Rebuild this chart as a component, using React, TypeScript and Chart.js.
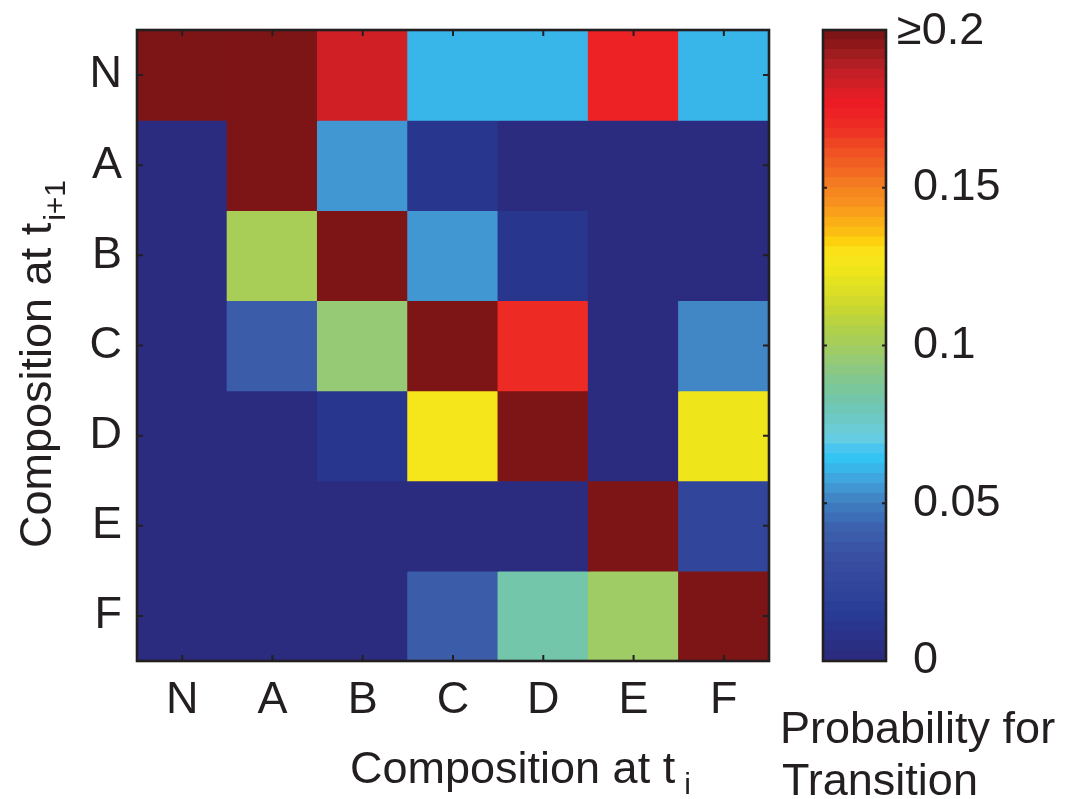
import React, { useEffect, useRef } from 'react';
import { Chart, registerables } from 'chart.js';

Chart.register(...registerables);

// Composition at t_i (columns) and at t_{i+1} (rows)
const FROM_LABELS = ['N', 'A', 'B', 'C', 'D', 'E', 'F'];
const TO_LABELS = ['N', 'A', 'B', 'C', 'D', 'E', 'F'];

// Transition probabilities, one row per composition at t_{i+1}
const ROW_N = [0.42, 0.35, 0.183, 0.061, 0.061, 0.172, 0.061];
const ROW_A = [0.0, 0.31, 0.054, 0.012, 0.0, 0.0, 0.0];
const ROW_B = [0.0, 0.102, 0.38, 0.054, 0.012, 0.0, 0.0];
const ROW_C = [0.0, 0.04, 0.094, 0.29, 0.17, 0.0, 0.05];
const ROW_D = [0.0, 0.0, 0.012, 0.128, 0.33, 0.0, 0.122];
const ROW_E = [0.0, 0.0, 0.0, 0.0, 0.0, 0.4, 0.024];
const ROW_F = [0.0, 0.0, 0.0, 0.038, 0.082, 0.098, 0.45];
const VALUES = [ROW_N, ROW_A, ROW_B, ROW_C, ROW_D, ROW_E, ROW_F];

const CBAR_TICKS = [0, 0.05, 0.1, 0.15, 0.2];
const CBAR_TICK_LABELS = ['0', '0.05', '0.1', '0.15', '≥0.2'];
const VMAX = 0.2;
const LEVELS = 64;

const X_TITLE = 'Composition at t';
const X_TITLE_SUB = 'i';
const Y_TITLE = 'Composition at t';
const Y_TITLE_SUB = 'i+1';
const CBAR_TITLE = ['Probability for', 'Transition'];

// printed "jet" colormap
const STOPS: [number, string][] = [
  [0.0, '#2b2a7c'], [0.04, '#2a3289'], [0.07, '#283a94'], [0.1, '#2e4299'],
  [0.13, '#34489d'], [0.17, '#3a50a2'], [0.19, '#3b5aa8'], [0.215, '#3c63ae'],
  [0.23, '#3d70b8'], [0.25, '#417fc1'], [0.27, '#4193cf'], [0.285, '#41a3da'],
  [0.3, '#3ab2e6'], [0.32, '#33c4f3'], [0.34, '#4ec5ef'], [0.355, '#6ccfe0'],
  [0.38, '#6bc9c9'], [0.41, '#71c6ac'], [0.44, '#7ec793'], [0.47, '#93c97a'],
  [0.5, '#a5cd5f'], [0.525, '#b0d04a'], [0.55, '#c2d635'], [0.58, '#d9de28'],
  [0.62, '#f0e61a'], [0.645, '#f9e51b'], [0.665, '#fdd00c'], [0.685, '#fcb615'],
  [0.7, '#fbac18'], [0.72, '#f7941d'], [0.75, '#f58220'], [0.78, '#f26522'],
  [0.81, '#f04e23'], [0.84, '#ee3024'], [0.88, '#ed1c24'], [0.897, '#e31e25'],
  [0.91, '#d41f26'], [0.93, '#c41f26'], [0.945, '#b11f24'], [0.96, '#a01c1f'],
  [0.977, '#8e1719'], [0.99, '#7d1416'], [1.0, '#7d1416'],
];

const FONT_FAMILY = '"Liberation Sans", Arial, Helvetica, sans-serif';
const TEXT_COLOR = '#231f20';
const FONT_SIZE = 45;

function hexToRgb(h: string) {
  const n = parseInt(h.slice(1), 16);
  return [(n >> 16) & 255, (n >> 8) & 255, n & 255];
}

function interp(t: number) {
  for (let i = 1; i < STOPS.length; i++) {
    if (t <= STOPS[i][0]) {
      const [t0, c0] = STOPS[i - 1];
      const [t1, c1] = STOPS[i];
      const f = (t - t0) / (t1 - t0 || 1);
      const a = hexToRgb(c0);
      const b = hexToRgb(c1);
      const c = a.map((v, k) => Math.round(v + (b[k] - v) * f));
      return `rgb(${c[0]},${c[1]},${c[2]})`;
    }
  }
  return STOPS[STOPS.length - 1][1];
}

function levelColor(k: number) {
  return interp((k + 0.5) / LEVELS);
}

function colorFor(v: number) {
  const t = Math.max(0, Math.min(1, v / VMAX));
  const k = Math.min(LEVELS - 1, Math.floor(t * LEVELS));
  return levelColor(k);
}

function noPad(s: any) {
  s.paddingTop = 0;
  s.paddingBottom = 0;
  s.paddingLeft = 0;
  s.paddingRight = 0;
}

const mainDecor = {
  id: 'mainDecor',
  afterDraw(chart: any) {
    const { ctx, chartArea: a, scales } = chart;
    const xs = scales.x;
    const ys = scales.y;
    ctx.save();
    ctx.strokeStyle = TEXT_COLOR;
    ctx.lineWidth = 2;
    const tl = 6;
    FROM_LABELS.forEach((_, i) => {
      const x = xs.getPixelForTick(i);
      ctx.beginPath();
      ctx.moveTo(x, a.bottom);
      ctx.lineTo(x, a.bottom - tl);
      ctx.moveTo(x, a.top);
      ctx.lineTo(x, a.top + tl);
      ctx.stroke();
    });
    TO_LABELS.forEach((_, i) => {
      const y = ys.getPixelForValue(i + 0.5);
      ctx.beginPath();
      ctx.moveTo(a.left, y);
      ctx.lineTo(a.left + tl, y);
      ctx.moveTo(a.right, y);
      ctx.lineTo(a.right - tl, y);
      ctx.stroke();
    });
    ctx.lineWidth = 2.6;
    ctx.strokeRect(a.left, a.top, a.right - a.left, a.bottom - a.top);

    // axis titles with subscripts
    ctx.fillStyle = TEXT_COLOR;
    ctx.textAlign = 'left';
    ctx.textBaseline = 'alphabetic';
    const big = `${FONT_SIZE}px ${FONT_FAMILY}`;
    const small = `30px ${FONT_FAMILY}`;
    ctx.font = big;
    const xw = ctx.measureText(X_TITLE).width;
    const xStart = 350;
    ctx.fillText(X_TITLE, xStart, 783);
    ctx.font = small;
    ctx.fillText(X_TITLE_SUB, xStart + xw + 9, 794);

    ctx.save();
    ctx.translate(51, 548);
    ctx.rotate(-Math.PI / 2);
    ctx.font = big;
    const yw = ctx.measureText(Y_TITLE).width;
    ctx.fillText(Y_TITLE, 0, 0);
    ctx.font = small;
    ctx.fillText(Y_TITLE_SUB, yw + 2, 14);
    ctx.restore();
    ctx.restore();
  },
};

const cbarDecor = {
  id: 'cbarDecor',
  afterDraw(chart: any) {
    const { ctx, chartArea: a, scales } = chart;
    const ys = scales.y;
    ctx.save();
    ctx.strokeStyle = TEXT_COLOR;
    ctx.lineWidth = 2;
    const tl = 4;
    CBAR_TICKS.forEach((v) => {
      const y = ys.getPixelForValue(v);
      ctx.beginPath();
      ctx.moveTo(a.left, y);
      ctx.lineTo(a.left + tl, y);
      ctx.moveTo(a.right, y);
      ctx.lineTo(a.right - tl, y);
      ctx.stroke();
    });
    ctx.lineWidth = 2.6;
    ctx.strokeRect(a.left, a.top, a.right - a.left, a.bottom - a.top);

    ctx.fillStyle = TEXT_COLOR;
    ctx.font = `${FONT_SIZE}px ${FONT_FAMILY}`;
    ctx.textAlign = 'left';
    ctx.textBaseline = 'middle';
    ctx.fillText(CBAR_TICK_LABELS[CBAR_TICK_LABELS.length - 1], a.right + 11, ys.getPixelForValue(CBAR_TICKS[CBAR_TICKS.length - 1]) + 2);

    ctx.textBaseline = 'alphabetic';
    ctx.fillText(CBAR_TITLE[0], 5, 743);
    ctx.fillText(CBAR_TITLE[1], 7, 795);
    ctx.restore();
  },
};

export default function App() {
  const mainRef = useRef<HTMLCanvasElement>(null);
  const cbarRef = useRef<HTMLCanvasElement>(null);

  useEffect(() => {
    const font = { family: FONT_FAMILY, size: FONT_SIZE };

    const datasets = TO_LABELS.map((rowLabel, r) => ({
      label: rowLabel,
      data: FROM_LABELS.map((c, j) => ({ x: c, y: [r, r + 1], v: VALUES[r][j] })),
      backgroundColor: VALUES[r].map((v) => colorFor(v)),
      borderWidth: 0,
      grouped: false,
      barPercentage: 1,
      categoryPercentage: 1,
      inflateAmount: 0.6,
    }));

    const main = new Chart(mainRef.current as HTMLCanvasElement, {
      type: 'bar',
      data: { labels: FROM_LABELS, datasets: datasets as any },
      options: {
        animation: false,
        responsive: false,
        maintainAspectRatio: false,
        layout: { padding: { left: 0, top: 30, right: 6, bottom: 0 } },
        plugins: { legend: { display: false }, tooltip: { enabled: false } },
        scales: {
          x: {
            type: 'category',
            offset: true,
            grid: { display: false, drawTicks: false },
            border: { display: false },
            ticks: { font, color: TEXT_COLOR, padding: 13, maxRotation: 0, autoSkip: false },
            afterFit: (s: any) => { s.height = 138; noPad(s); },
          },
          y: {
            type: 'linear',
            min: 0,
            max: TO_LABELS.length,
            reverse: true,
            grid: { display: false, drawTicks: false },
            border: { display: false },
            afterBuildTicks: (s: any) => { s.ticks = TO_LABELS.map((_, i) => ({ value: i + 0.5 })); },
            ticks: { font, color: TEXT_COLOR, padding: 15, callback: (_v: any, i: number) => TO_LABELS[i] },
            afterFit: (s: any) => { s.width = 137; noPad(s); },
          },
        },
      } as any,
      plugins: [mainDecor],
    });

    const cbarDatasets = Array.from({ length: LEVELS }, (_, k) => ({
      label: `level ${k}`,
      data: [{ x: 'cbar', y: [(k * VMAX) / LEVELS, ((k + 1) * VMAX) / LEVELS] }],
      backgroundColor: levelColor(k),
      borderWidth: 0,
      grouped: false,
      barPercentage: 1,
      categoryPercentage: 1,
      inflateAmount: 0.6,
    }));

    const cbar = new Chart(cbarRef.current as HTMLCanvasElement, {
      type: 'bar',
      data: { labels: ['cbar'], datasets: cbarDatasets as any },
      options: {
        animation: false,
        responsive: false,
        maintainAspectRatio: false,
        layout: { padding: { left: 48, top: 30, right: 0, bottom: 138 } },
        plugins: { legend: { display: false }, tooltip: { enabled: false } },
        scales: {
          x: { type: 'category', display: false, offset: true },
          y: {
            type: 'linear',
            position: 'right',
            min: 0,
            max: VMAX,
            grid: { display: false, drawTicks: false },
            border: { display: false },
            afterBuildTicks: (s: any) => { s.ticks = CBAR_TICKS.map((v) => ({ value: v })); },
            ticks: {
              font,
              color: TEXT_COLOR,
              padding: 27,
              callback: (_v: any, i: number) => (i === CBAR_TICKS.length - 1 ? '' : CBAR_TICK_LABELS[i]),
            },
            afterFit: (s: any) => { s.width = 183; noPad(s); },
          },
        },
      } as any,
      plugins: [cbarDecor],
    });

    return () => {
      main.destroy();
      cbar.destroy();
    };
  }, []);

  return (
    <div style={{ position: 'absolute', left: 0, top: 0, width: 1069, height: 799, background: '#ffffff' }}>
      <canvas ref={mainRef} width={775} height={799} style={{ position: 'absolute', left: 0, top: 0 }} />
      <canvas ref={cbarRef} width={294} height={799} style={{ position: 'absolute', left: 775, top: 0 }} />
    </div>
  );
}
